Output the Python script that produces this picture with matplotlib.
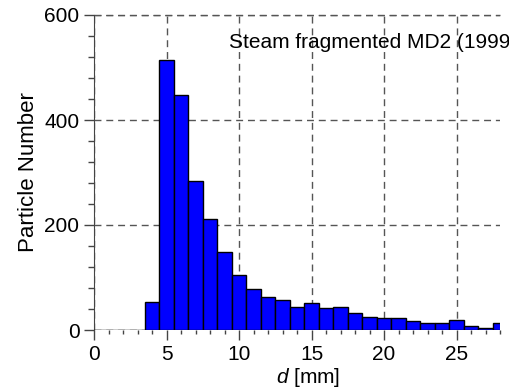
import matplotlib
matplotlib.use("Agg")
import matplotlib.pyplot as plt
from matplotlib.ticker import MultipleLocator

plt.rcParams['font.family'] = ['Liberation Sans', 'DejaVu Sans']
plt.rcParams['mathtext.fontset'] = 'custom'
plt.rcParams['mathtext.it'] = 'Liberation Sans:italic'
plt.rcParams['mathtext.rm'] = 'Liberation Sans'

# bin centres (mm), width 1
diam = [0, 1, 2, 3, 4, 5, 6, 7, 8, 9, 10, 11, 12, 13, 14, 15, 16, 17, 18,
        19, 20, 21, 22, 23, 24, 25, 26, 27, 28]
counts = [0, 0, 0, 0, 54, 514, 448, 284, 211, 149, 104, 79, 62, 58, 44, 51,
          41, 43, 32, 25, 23, 23, 18, 14, 14, 20, 8, 3, 13]
title = "Steam fragmented MD2 (1999)"

fs = 15
fig = plt.figure(figsize=(5.09, 3.92), dpi=100)
ax = fig.add_axes([94/509, 1-330/392, (500-94)/509, (330-15)/392])

ax.bar(diam, counts, width=1.0, color='#0000ff', edgecolor='black',
       linewidth=1.0, zorder=3)

ax.set_xlim(0, 28)
ax.set_ylim(0, 600)
ax.xaxis.set_major_locator(MultipleLocator(5))
ax.xaxis.set_minor_locator(MultipleLocator(1))
ax.yaxis.set_major_locator(MultipleLocator(200))
ax.yaxis.set_minor_locator(MultipleLocator(40))
ax.tick_params(which='major', length=7, width=1, color='#444444',
               labelsize=fs, pad=3.5)
ax.tick_params(axis='x', which='minor', length=3, width=1, color='#444444')
ax.tick_params(axis='y', which='minor', length=4.5, width=1, color='#444444')

for s in ['top', 'right', 'bottom']:
    ax.spines[s].set_visible(False)
ax.spines['left'].set_color('#444444')

ax.grid(True, which='major', linestyle=(0, (5, 3.5)), color='#555555',
        linewidth=1.0, zorder=0)
ax.axhline(600, linestyle=(0, (5, 3.5)), color='#555555', linewidth=1.0,
           clip_on=False)

# title runs off the right edge, as in the original
ax.text(9.3, 537, title, fontsize=fs, va='baseline', ha='left', clip_on=False)

ax.set_ylabel('Particle Number', fontsize=16)
ax.yaxis.set_label_coords(-0.135, 0.5)
ax.set_xlabel(r'$d$ [mm]', fontsize=fs)
ax.xaxis.set_label_coords(0.527, -0.115)

fig.savefig('out.png', dpi=100)
